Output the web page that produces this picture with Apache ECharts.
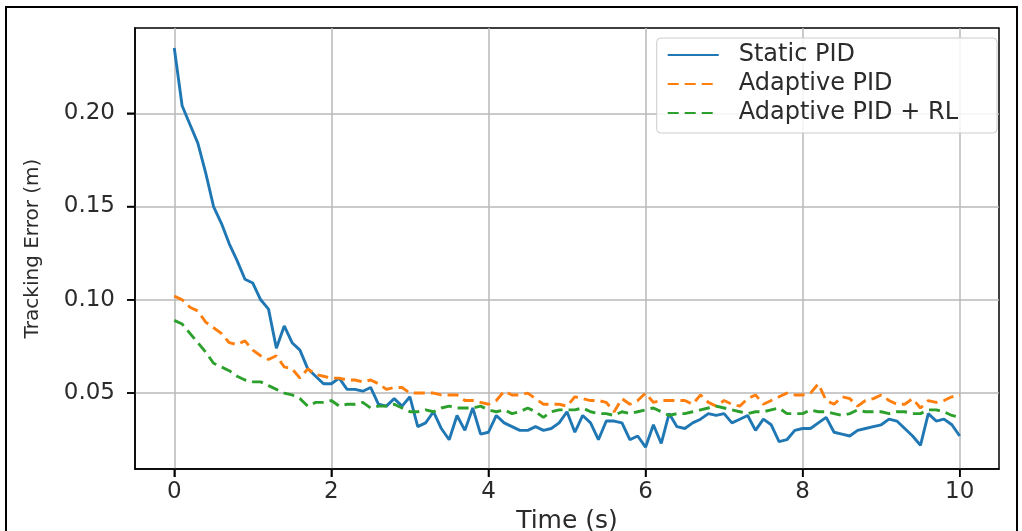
<!DOCTYPE html>
<html>
<head>
<meta charset="utf-8">
<script src="https://cdn.jsdelivr.net/npm/echarts@6/dist/echarts.min.js"></script>
<style>
  html, body { margin: 0; padding: 0; background: #fff; }
  #chart { width: 1022px; height: 531px; }
</style>
</head>
<body>
<div id="chart"></div>
<script>
// time axis (s)
const timeS = [
  0.0, 0.1, 0.2, 0.3, 0.4, 0.5, 0.6, 0.7, 0.8, 0.9,
  1.0, 1.1, 1.2, 1.3, 1.4, 1.5, 1.6, 1.7, 1.8, 1.9,
  2.0, 2.1, 2.2, 2.3, 2.4, 2.5, 2.6, 2.7, 2.8, 2.9,
  3.0, 3.1, 3.2, 3.3, 3.4, 3.5, 3.6, 3.7, 3.8, 3.9,
  4.0, 4.1, 4.2, 4.3, 4.4, 4.5, 4.6, 4.7, 4.8, 4.9,
  5.0, 5.1, 5.2, 5.3, 5.4, 5.5, 5.6, 5.7, 5.8, 5.9,
  6.0, 6.1, 6.2, 6.3, 6.4, 6.5, 6.6, 6.7, 6.8, 6.9,
  7.0, 7.1, 7.2, 7.3, 7.4, 7.5, 7.6, 7.7, 7.8, 7.9,
  8.0, 8.1, 8.2, 8.3, 8.4, 8.5, 8.6, 8.7, 8.8, 8.9,
  9.0, 9.1, 9.2, 9.3, 9.4, 9.5, 9.6, 9.7, 9.8, 9.9,
  10.0
];

const staticPid = [
  0.235, 0.204, 0.194, 0.184, 0.168, 0.150, 0.141, 0.130, 0.121, 0.111,
  0.109, 0.100, 0.095, 0.074, 0.086, 0.077, 0.073, 0.063, 0.059, 0.055,
  0.055, 0.058, 0.052, 0.052, 0.051, 0.053, 0.044, 0.043, 0.047, 0.043,
  0.048, 0.032, 0.034, 0.040, 0.031, 0.025, 0.038, 0.030, 0.042, 0.028,
  0.029, 0.038, 0.034, 0.032, 0.030, 0.030, 0.032, 0.030, 0.031, 0.034,
  0.040, 0.029, 0.038, 0.034, 0.025, 0.035, 0.035, 0.034, 0.025, 0.027,
  0.021, 0.033, 0.023, 0.039, 0.032, 0.031, 0.034, 0.036, 0.039, 0.038,
  0.039, 0.034, 0.036, 0.038, 0.030, 0.036, 0.033, 0.024, 0.025, 0.030,
  0.031, 0.031, 0.034, 0.037, 0.029, 0.028, 0.027, 0.030, 0.031, 0.032,
  0.033, 0.036, 0.035, 0.031, 0.027, 0.022, 0.039, 0.035, 0.036, 0.033,
  0.027
];

const adaptivePid = [
  0.102, 0.100, 0.096, 0.094, 0.088, 0.085, 0.082, 0.077, 0.076, 0.078,
  0.073, 0.070, 0.068, 0.070, 0.064, 0.063, 0.058, 0.063, 0.060, 0.059,
  0.058, 0.058, 0.057, 0.057, 0.056, 0.057, 0.055, 0.052, 0.053, 0.053,
  0.050, 0.050, 0.050, 0.050, 0.049, 0.049, 0.049, 0.046, 0.046, 0.045,
  0.044, 0.046, 0.051, 0.049, 0.049, 0.050, 0.047, 0.044, 0.044, 0.044,
  0.043, 0.048, 0.047, 0.046, 0.046, 0.045, 0.040, 0.047, 0.044, 0.046,
  0.050, 0.045, 0.046, 0.046, 0.046, 0.046, 0.044, 0.049, 0.045, 0.043,
  0.046, 0.044, 0.043, 0.047, 0.049, 0.044, 0.046, 0.048, 0.050, 0.049,
  0.049, 0.050, 0.055, 0.046, 0.044, 0.048, 0.047, 0.043, 0.046, 0.047,
  0.049, 0.046, 0.044, 0.044, 0.047, 0.042, 0.046, 0.045, 0.046, 0.048,
  0.049
];

const adaptivePidRl = [
  0.089, 0.087, 0.082, 0.077, 0.072, 0.066, 0.064, 0.062, 0.059, 0.057,
  0.056, 0.056, 0.054, 0.052, 0.050, 0.049, 0.047, 0.043, 0.045, 0.045,
  0.046, 0.043, 0.044, 0.044, 0.045, 0.042, 0.043, 0.043, 0.044, 0.042,
  0.040, 0.040, 0.041, 0.040, 0.042, 0.043, 0.042, 0.042, 0.042, 0.043,
  0.041, 0.040, 0.041, 0.039, 0.040, 0.042, 0.040, 0.037, 0.040, 0.041,
  0.041, 0.041, 0.042, 0.040, 0.039, 0.039, 0.038, 0.040, 0.039, 0.040,
  0.041, 0.042, 0.040, 0.038, 0.039, 0.039, 0.040, 0.041, 0.042, 0.043,
  0.042, 0.041, 0.040, 0.039, 0.040, 0.040, 0.041, 0.042, 0.039, 0.039,
  0.039, 0.041, 0.040, 0.040, 0.039, 0.038, 0.039, 0.041, 0.040, 0.040,
  0.040, 0.039, 0.040, 0.040, 0.039, 0.039, 0.041, 0.041, 0.040, 0.038,
  0.037
];

const xTicks = [0, 2, 4, 6, 8, 10];
const yTicks = [0.05, 0.10, 0.15, 0.20];

const seriesNames = ['Static PID', 'Adaptive PID', 'Adaptive PID + RL'];
const seriesColors = ['#1f77b4', '#ff7f0e', '#2ca02c'];

const pairs = (vals) => vals.map((v, i) => [timeS[i], v]);

const txt = '#2b2b2b';
const font = 'DejaVu Sans';
const tickLen = 8;

const chart = echarts.init(document.getElementById('chart'));

const option = {
  animation: false,
  backgroundColor: '#ffffff',
  textStyle: { fontFamily: font },
  grid: {
    left: 135, right: 23, top: 28, bottom: 62,
    outerBoundsMode: 'none',
    containLabel: false,
    show: true, borderColor: '#000', borderWidth: 1.5,
    backgroundColor: 'transparent'
  },
  legend: {
    data: seriesNames,
    orient: 'vertical',
    right: 25,
    top: 38,
    itemWidth: 51,
    itemHeight: 14,
    itemGap: 5,
    padding: [5, 39, 8, 10],
    backgroundColor: 'rgba(255,255,255,0.85)',
    borderColor: '#cccccc',
    borderWidth: 1,
    borderRadius: 4,
    itemStyle: { opacity: 0 },
    textStyle: {
      fontFamily: font, fontSize: 24, color: txt, lineHeight: 24,
      padding: [0, 0, 0, 15]
    }
  },
  xAxis: {
    type: 'value',
    min: -0.5,
    max: 10.5,
    name: 'Time (s)',
    nameLocation: 'middle',
    nameGap: 40,
    nameTextStyle: { fontFamily: font, fontSize: 25, color: txt },
    axisLine: { show: true, onZero: false, lineStyle: { color: '#000', width: 1.5 } },
    axisTick: {
      show: true, customValues: xTicks, length: tickLen, inside: false,
      lineStyle: { color: '#000', width: 1.5 }
    },
    axisLabel: {
      customValues: xTicks, margin: 12,
      fontFamily: font, fontSize: 23, color: txt
    },
    splitLine: { show: true, lineStyle: { color: '#b8b8b8', width: 1.5 } }
  },
  yAxis: {
    type: 'value',
    min: 0.0093,
    max: 0.2457,
    name: 'Tracking Error (m)',
    nameLocation: 'middle',
    nameGap: 92,
    nameTextStyle: { fontFamily: font, fontSize: 20, color: txt },
    axisLine: { show: true, onZero: false, lineStyle: { color: '#000', width: 1.5 } },
    axisTick: {
      show: true, customValues: yTicks, length: tickLen, inside: false,
      lineStyle: { color: '#000', width: 1.5 }
    },
    axisLabel: {
      customValues: yTicks, margin: 20,
      fontFamily: font, fontSize: 23, color: txt,
      formatter: (v) => v.toFixed(2)
    },
    splitLine: { show: true, lineStyle: { color: '#b8b8b8', width: 1.5 } }
  },
  series: [
    {
      name: seriesNames[0], type: 'line', symbol: 'none',
      data: pairs(staticPid),
      color: seriesColors[0],
      lineStyle: { color: seriesColors[0], width: 2.9 }
    },
    {
      name: seriesNames[1], type: 'line', symbol: 'none',
      data: pairs(adaptivePid),
      color: seriesColors[1],
      lineStyle: { color: seriesColors[1], width: 2.9, type: [11, 6] }
    },
    {
      name: seriesNames[2], type: 'line', symbol: 'none',
      data: pairs(adaptivePidRl),
      color: seriesColors[2],
      lineStyle: { color: seriesColors[2], width: 2.9, type: [11, 6] }
    }
  ],
  graphic: [
    {
      // outer frame of the picture
      type: 'rect', silent: true,
      shape: { x: 6, y: 7, width: 1011, height: 560 },
      style: { fill: 'none', stroke: '#000', lineWidth: 2 }
    }
  ]
};

chart.setOption(option);

// outward tick marks placed through the axes' own scales
const rect = chart.getModel().getComponent('grid').coordinateSystem.getRect();
const tickStyle = { stroke: '#000', lineWidth: 1.5 };
const tickMarks = [];
xTicks.forEach((v) => {
  const px = chart.convertToPixel({ xAxisIndex: 0 }, v);
  const y0 = rect.y + rect.height;
  tickMarks.push({ type: 'line', silent: true, shape: { x1: px, y1: y0, x2: px, y2: y0 + tickLen }, style: tickStyle });
});
yTicks.forEach((v) => {
  const py = chart.convertToPixel({ yAxisIndex: 0 }, v);
  tickMarks.push({ type: 'line', silent: true, shape: { x1: rect.x - tickLen, y1: py, x2: rect.x, y2: py }, style: tickStyle });
});
chart.setOption({ graphic: option.graphic.concat(tickMarks) });
</script>
</body>
</html>
